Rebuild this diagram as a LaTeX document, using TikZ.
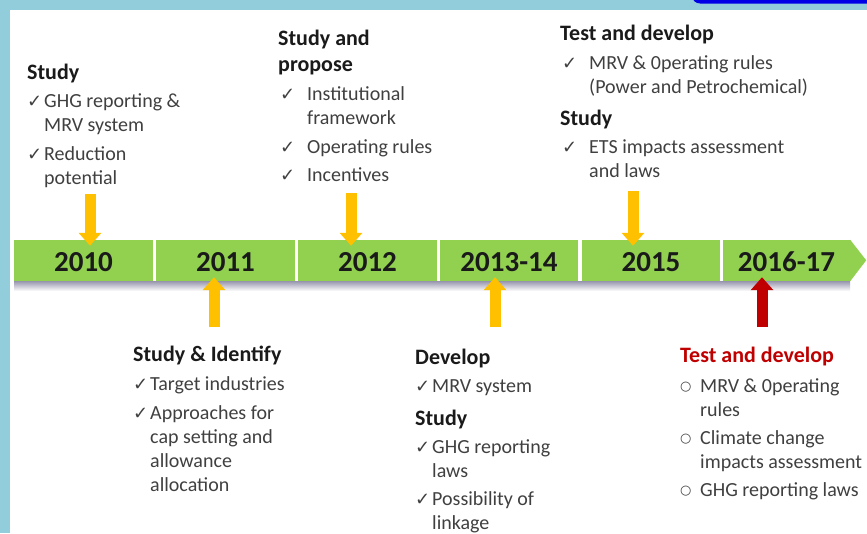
\documentclass[tikz,border=0pt]{standalone}
\usepackage{fontspec}
\setmainfont{Carlito}
\newfontfamily\symfont{DejaVu Sans}
\usetikzlibrary{arrows.meta,calc}
\definecolor{framebl}{RGB}{146,205,220}
\definecolor{topbl}{RGB}{0,0,230}
\definecolor{barg}{RGB}{146,208,80}
\definecolor{arryel}{RGB}{255,192,0}
\definecolor{arrred}{RGB}{192,0,0}
\definecolor{txtgray}{RGB}{64,64,64}
\definecolor{hdblack}{RGB}{26,26,26}
\definecolor{shd}{RGB}{150,148,172}
\newcommand{\hd}[1]{{\fontsize{22}{24}\selectfont\bfseries\color{hdblack}#1}}
\newcommand{\hdr}[1]{{\fontsize{22}{24}\selectfont\bfseries\color{arrred}#1}}
\newcommand{\ckn}{\makebox[17pt][l]{\symfont\fontsize{18}{24}\selectfont ✓}}
\newcommand{\ckw}{\makebox[29pt][l]{\hspace{2pt}\symfont\fontsize{18}{24}\selectfont ✓}}
\newcommand{\bul}{\makebox[20pt][l]{\raisebox{1.5pt}{\symfont\fontsize{13}{24}\selectfont ○}}}
\newcommand{\inn}{\hspace*{17pt}}
\newcommand{\inw}{\hspace*{29pt}}
\newcommand{\inb}{\hspace*{20pt}}
\begin{document}
\begin{tikzpicture}[x=1pt,y=-1pt,
  seg/.style={fill=barg,minimum height=41pt,inner sep=0pt,text height=22pt,text depth=0pt,text=hdblack,font=\fontsize{29}{30}\selectfont\bfseries},
  blk/.style={anchor=north west,inner sep=0pt,align=left,text=txtgray,font=\fontsize{20}{24}\selectfont},
  yarr/.style={draw=arryel,line width=11pt,-{Triangle[width=22pt,length=13pt]}},
  rarr/.style={yarr,draw=arrred}]
\useasboundingbox (0,0) rectangle (867,533);
\fill[framebl] (0,0) rectangle (867,533);
\fill[white] (10,10) rectangle (867,533);
\fill[topbl,rounded corners=8pt] (692,-12) rectangle (880,3.5);
\shade[top color=shd,bottom color=white] (14,281) rectangle (850,291);
\node[seg,minimum width=139pt] (y2010) at (83.5,260.5) {2010};
\node[seg,minimum width=139pt] (y2011) at (225.5,260.5) {2011};
\node[seg,minimum width=139pt] (y2012) at (367.5,260.5) {2012};
\node[seg,minimum width=138pt] (y2013) at (509,260.5) {2013-14};
\node[seg,minimum width=138pt] (y2015) at (651,260.5) {2015};
\node[seg,minimum width=127pt] (y2016) at (786.5,260.5) {2016-17};
\fill[barg] (y2016.north east) -- ++(16,20.5) -- (y2016.south east) -- cycle;
\node[blk] (b2010) at (27,62.2) {\strut\hd{Study}\\[4pt]
  \ckn GHG reporting \&\\ \inn MRV system\\[5pt]
  \ckn Reduction\\ \inn potential};
\node[blk] (b2012) at (278,28.2) {\strut\hd{Study and}\\[2pt] \hd{propose}\\[5pt]
  \ckw Institutional\\ \inw framework\\[5pt]
  \ckw Operating rules\\[4pt]
  \ckw Incentives};
\node[blk] (b2015) at (560,23.2) {\strut\hd{Test and develop}\\[5pt]
  \ckw MRV \& 0perating rules\\ \inw (Power and Petrochemical)\\[8pt]
  \hd{Study}\\[4pt]
  \ckw ETS impacts assessment\\ \inw and laws};
\node[blk] (b2011) at (133,344.2) {\strut\hd{Study \& Identify}\\[5pt]
  \ckn Target industries\\[5pt]
  \ckn Approaches for\\ \inn cap setting and\\ \inn allowance\\ \inn allocation};
\node[blk] (b2013) at (415,347.2) {\strut\hd{Develop}\\[4pt]
  \ckn MRV system\\[9pt]
  \hd{Study}\\[4pt]
  \ckn GHG reporting\\ \inn laws\\[4pt]
  \ckn Possibility of\\ \inn linkage};
\node[blk] (b2016) at (680,345.2) {\strut\hdr{Test and develop}\\[6pt]
  \bul MRV \& 0perating\\ \inb rules\\[4pt]
  \bul Climate change\\ \inb impacts assessment\\[4pt]
  \bul GHG reporting laws};
\coordinate (s2010) at (90,194);
\coordinate (s2012) at (351,193);
\coordinate (s2015) at (633,191);
\coordinate (s2011) at (214,327);
\coordinate (s2013) at (495,327);
\coordinate (s2016) at (762,327);
\draw[yarr] (s2010) -- ($(s2010 |- y2010.north)+(0,6)$);
\draw[yarr] (s2012) -- ($(s2012 |- y2012.north)+(0,6)$);
\draw[yarr] (s2015) -- ($(s2015 |- y2015.north)+(0,6)$);
\draw[yarr] (s2011) -- ($(s2011 |- y2011.south)+(0,-4)$);
\draw[yarr] (s2013) -- ($(s2013 |- y2013.south)+(0,-4)$);
\draw[rarr] (s2016) -- ($(s2016 |- y2016.south)+(0,-4)$);
\end{tikzpicture}
\end{document}
